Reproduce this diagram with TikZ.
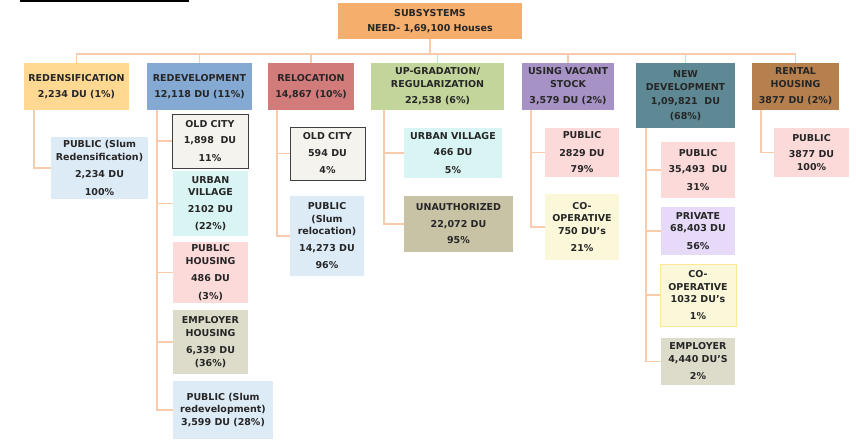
\documentclass[tikz,border=0pt]{standalone}
\usepackage{fontspec}
\setmainfont{DejaVu Sans}
\usepackage{xcolor}
\usetikzlibrary{positioning}

\definecolor{rootc}{HTML}{F6AE6C}
\definecolor{redensc}{HTML}{FFD992}
\definecolor{redevc}{HTML}{84A9D3}
\definecolor{relocc}{HTML}{D27B7B}
\definecolor{upgc}{HTML}{C2D69B}
\definecolor{vacc}{HTML}{A692C4}
\definecolor{newdevc}{HTML}{5E8994}
\definecolor{rentalc}{HTML}{B5804E}
\definecolor{slumc}{HTML}{DDEBF7}
\definecolor{oldc}{HTML}{F5F3EE}
\definecolor{urbanc}{HTML}{D9F5F3}
\definecolor{pinkc}{HTML}{FDDADA}
\definecolor{empc}{HTML}{DDDBC9}
\definecolor{unauthc}{HTML}{C9C3A6}
\definecolor{coopc}{HTML}{FBF8DA}
\definecolor{privc}{HTML}{E6DAF8}
\definecolor{linkc}{HTML}{F8CBAD}

\begin{document}
\begin{tikzpicture}[x=1pt, y=-1pt,
  box/.style={anchor=north west, align=center, inner sep=1pt, outer sep=0pt,
    font=\fontsize{9.5}{12.5}\selectfont\bfseries, text=black!85},
  grp/.style={box, minimum height=47pt},
  old/.style={box, fill=oldc, draw=black!75, line width=1pt},
  ln/.style={draw=linkc, line width=1.3pt}]
\useasboundingbox (0,0) rectangle (856,439);
\draw[line width=1.5pt] (20,1) -- (189,1);

% root and first level
\node[box, fill=rootc, minimum width=184pt, minimum height=36pt] (root) at (338,3) {SUBSYSTEMS\\[2pt]NEED- 1,69,100 Houses};
\node[grp, fill=redensc, minimum width=105pt] (redens) at (24,63) {REDENSIFICATION\\[4pt]2,234 DU (1\%)};
\node[grp, fill=redevc, minimum width=105pt] (redev) at (147,63) {REDEVELOPMENT\\[4pt]12,118 DU (11\%)};
\node[grp, fill=relocc, minimum width=86pt] (reloc) at (268,63) {RELOCATION\\[4pt]14,867 (10\%)};
\node[grp, fill=upgc, minimum width=133pt] (upg) at (371,63) {UP-GRADATION/\\REGULARIZATION\\[4pt]22,538 (6\%)};
\node[grp, fill=vacc, minimum width=92pt] (vac) at (522,63) {USING VACANT\\STOCK\\[4pt]3,579 DU (2\%)};
\node[grp, fill=newdevc, minimum width=99pt, minimum height=65pt] (newdev) at (636,63) {NEW\\DEVELOPMENT\\[2pt]1,09,821~ DU\\[2pt](68\%)};
\node[grp, fill=rentalc, minimum width=87pt] (rental) at (752,63) {RENTAL\\HOUSING\\[4pt]3877 DU (2\%)};

% second level
\node[box, fill=slumc, minimum width=97pt, minimum height=62pt] (pubredens) at (51,137) {PUBLIC (Slum\\Redensification)\\[5pt]2,234 DU\\[5pt]100\%};

\node[old, minimum width=76pt, minimum height=54pt] (oc1) at (172,114) {OLD CITY\\[4pt]1,898~ DU\\[5pt]11\%};
\node[box, fill=urbanc, minimum width=75pt, minimum height=65pt] (uv1) at (173,171) {URBAN\\VILLAGE\\[4pt]2102 DU\\[5pt](22\%)};
\node[box, fill=pinkc, minimum width=75pt, minimum height=61pt] (ph1) at (173,242) {PUBLIC\\HOUSING\\[5pt]486 DU\\[5pt](3\%)};
\node[box, fill=empc, minimum width=75pt, minimum height=64pt] (eh1) at (173,310) {EMPLOYER\\HOUSING\\[5pt]6,339 DU\\(36\%)};
\node[box, fill=slumc, minimum width=100pt, minimum height=58pt] (sr1) at (173,381) {PUBLIC (Slum\\redevelopment)\\3,599 DU (28\%)};

\node[old, minimum width=75pt, minimum height=53pt] (oc2) at (290,127) {OLD CITY\\[4pt]594 DU\\[5pt]4\%};
\node[box, fill=slumc, minimum width=74pt, minimum height=80pt] (sr2) at (290,196) {PUBLIC\\(Slum\\relocation)\\[4pt]14,273 DU\\[5pt]96\%};

\node[box, fill=urbanc, minimum width=98pt, minimum height=50pt] (uv2) at (404,128) {URBAN VILLAGE\\[4pt]466 DU\\[5pt]5\%};
\node[box, fill=unauthc, minimum width=109pt, minimum height=56pt] (ua) at (404,196) {UNAUTHORIZED\\[4pt]22,072 DU\\[4pt]95\%};

\node[box, fill=pinkc, minimum width=74pt, minimum height=49pt] (pv) at (545,128) {PUBLIC\\[5pt]2829 DU\\[4pt]79\%};
\node[box, fill=coopc, minimum width=74pt, minimum height=66pt] (cv) at (545,194) {CO-\\OPERATIVE\\750 DU's\\[5pt]21\%};

\node[box, fill=pinkc, minimum width=74pt, minimum height=56pt] (pn) at (661,142) {PUBLIC\\[4pt]35,493~ DU\\[5pt]31\%};
\node[box, fill=privc, minimum width=74pt, minimum height=48pt] (prn) at (661,207) {PRIVATE\\68,403 DU\\[5pt]56\%};
\node[box, fill=coopc, draw=yellow!60!orange!40, minimum width=76pt, minimum height=62pt] (cn) at (660,264) {CO-\\OPERATIVE\\1032 DU's\\[4pt]1\%};
\node[box, fill=empc, minimum width=74pt, minimum height=47pt] (en) at (661,338) {EMPLOYER\\4,440 DU'S\\[5pt]2\%};

\node[box, fill=pinkc, minimum width=75pt, minimum height=49pt] (pr) at (774,128) {PUBLIC\\[4pt]3877 DU\\100\%};

% connectors
\foreach \n in {redens,redev,reloc,upg,vac,newdev,rental}
  \draw[ln] (root.south) -- ++(0,15) -| (\n.north);
\draw[ln] (redens.south west) ++(10,0) |- (pubredens.west);
\foreach \n in {oc1,uv1,ph1,eh1,sr1}
  \draw[ln] (redev.south west) ++(10,0) |- (\n.west);
\foreach \n in {oc2,sr2}
  \draw[ln] (reloc.south west) ++(9,0) |- (\n.west);
\foreach \n in {uv2,ua}
  \draw[ln] (upg.south west) ++(13,0) |- (\n.west);
\foreach \n in {pv,cv}
  \draw[ln] (vac.south west) ++(9,0) |- (\n.west);
\foreach \n in {pn,prn,cn,en}
  \draw[ln] (newdev.south west) ++(10,0) |- (\n.west);
\draw[ln] (rental.south west) ++(9,0) |- (pr.west);
\end{tikzpicture}
\end{document}
